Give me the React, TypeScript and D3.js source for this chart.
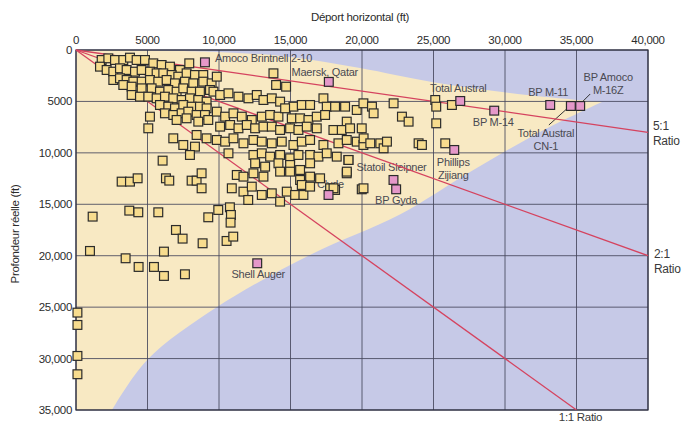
import React from "react";
import * as d3 from "d3";

const W = 683;
const H = 425;

// Axis ticks (feet)
const xTicks = [0, 5000, 10000, 15000, 20000, 25000, 30000, 35000, 40000];
const yTicks = [0, 5000, 10000, 15000, 20000, 25000, 30000, 35000];
const xTickLabels = ["0", "5000", "10,000", "15,000", "20,000", "25,000", "30,000", "35,000", "40,000"];
const yTickLabels = ["0", "5000", "10,000", "15,000", "20,000", "25,000", "30,000", "35,000"];

// Extended-reach envelope: upper and lower boundaries [horizontal departure, depth]
const envelopeUpper: [number, number][] = [
  [0, 0], [9860, 194], [14965, 680], [19860, 1750], [24895, 3110], [31540, 4375], [36780, 5055],
];
const envelopeLower: [number, number][] = [
  [36780, 5055], [32450, 7970], [27550, 11870], [22650, 16000], [16360, 19930],
  [9860, 24990], [4970, 30140], [2520, 35000],
];

// Reach ratio lines (end points)
const ratioNames = ["5:1", "2:1", "1:1"];
const ratioEndX = [40000, 40000, 35000];
const ratioEndY = [8000, 20000, 35000];

// Wells: [horizontal departure ft, true vertical depth ft]
const wells: [number, number][] = [
  [1794, 972], [2260, 810], [2726, 972], [3308, 972], [3774, 745], [4240, 972], [4823, 972],
  [5405, 1296], [5988, 1458], [6570, 1620], [7269, 1944], [7921, 1296],
  [1677, 1620], [2143, 1944], [2609, 2106], [3075, 1782], [3541, 1944], [4124, 2106], [4590, 1944],
  [5172, 2106], [5638, 2268], [6104, 2268], [6687, 2430], [7153, 2592], [7735, 2268], [8318, 2430], [8900, 2430],
  [2609, 2916], [3075, 2754], [3541, 2916], [4007, 3078], [4590, 3078], [5172, 2916], [5755, 3078],
  [6337, 2916], [6920, 3240], [7619, 3078], [8201, 3240], [8900, 3078], [9483, 3240],
  [3308, 3402], [3891, 3564], [4590, 3726], [5289, 3726], [5871, 4050], [6454, 3888], [7036, 4050],
  [7502, 3726], [8085, 4050], [8667, 4050], [9366, 3888],
  [3891, 4374], [4473, 4536], [5056, 4536], [5638, 4698], [6221, 4536], [6803, 4698], [7386, 4860],
  [7968, 4698], [8551, 4860], [9133, 5022],
  [5871, 5346], [6454, 5508], [6920, 5670], [7502, 5346], [8085, 5508], [8667, 5508], [9133, 5670],
  [6221, 6156], [6803, 6318], [7386, 6156], [7852, 5994], [8434, 6318], [9017, 6318],
  [5172, 6480], [5056, 7614], [7036, 6804], [7735, 6642], [8551, 6966], [9250, 6804],
  [6803, 8586], [7502, 9234], [8318, 9396], [9133, 8586], [8434, 8262],
  [9846, 2592], [13807, 2268], [13993, 3402], [14692, 3564],
  [9613, 4050], [10079, 4374], [10662, 4212], [11361, 4536], [12060, 4698], [12642, 4374], [13108, 4860],
  [13691, 4698], [14273, 5022], [15205, 5508], [15788, 5346], [16370, 5346], [17302, 4698], [17535, 5508],
  [18118, 5508], [18817, 5508], [19632, 5832], [20098, 5184],
  [9846, 5994], [10429, 6480], [11011, 6156], [11594, 6480], [12293, 6804], [12992, 6480], [13574, 6318],
  [14157, 6480], [14623, 5670], [15089, 6642], [15671, 6642], [16254, 6804], [16836, 6480], [17419, 6318],
  [18933, 6966],
  [10079, 7452], [10778, 7290], [11361, 7614], [11943, 7290], [12526, 7614], [13108, 7452], [13691, 7452],
  [14273, 7776], [14972, 7614], [15555, 7776], [16137, 7452], [16836, 7614], [18001, 7776], [18584, 7776],
  [19166, 7614], [19982, 7614],
  [9846, 8748], [10429, 8910], [11011, 8586], [11710, 9072], [12409, 8748], [12992, 8910], [13691, 9072],
  [14390, 8910], [15205, 9234], [15788, 8910], [16370, 8748], [17302, 9234], [18351, 9072], [18933, 8748],
  [19632, 8910], [20098, 9234],
  [10662, 10044], [12409, 10206], [12992, 10044], [13574, 10368], [14273, 10206], [14972, 10530],
  [15555, 10206], [16370, 10206], [16953, 10368], [17535, 10044], [18234, 10368], [19050, 10692],
  [12526, 11016], [13225, 11340], [14157, 11016], [14972, 11178], [15671, 11664], [16370, 11016],
  [11244, 12150], [11710, 12312], [12409, 11988], [13108, 12312], [14273, 11826], [14972, 11826],
  [16370, 12312], [17069, 12474], [15671, 12636], [18933, 11988],
  [10895, 13446], [11710, 13770], [12293, 13284], [12992, 14094], [13691, 13932], [14273, 14742],
  [14739, 13770], [15322, 14094], [15904, 14094], [15788, 13122], [16370, 13284], [17768, 13446],
  [18118, 13608], [19982, 13543],
  [20105, 13446], [18940, 11826], [19057, 10692], [18008, 13446],
  [20696, 5508], [20812, 6156], [22210, 5184], [22793, 6480], [23259, 6966], [25123, 4860],
  [25192, 5508], [25192, 7128], [26288, 5346],
  [20113, 8586], [20579, 9072], [21278, 9072], [21511, 9558], [21744, 8910], [23958, 9072],
  [24191, 9234], [25822, 9072],
  [7968, 10206], [6057, 10757], [3192, 12798], [3774, 12798], [4310, 12474], [6290, 12474],
  [6523, 12701], [8085, 12701], [8434, 12701], [8784, 11988], [8784, 13446],
  [1164, 16200], [3727, 15617], [4357, 15779], [5755, 15779], [9250, 16265], [6989, 17496],
  [7455, 18338], [8853, 18792],
  [12044, 14580], [9948, 15552], [10763, 15293], [10833, 16038], [10810, 16783], [10530, 18565],
  [10996, 18144],
  [977, 19537], [3470, 20250], [4379, 21092], [5451, 21092], [6150, 19602], [6150, 21967], [7618, 21805],
  [100, 25531], [100, 26730], [100, 29743], [100, 31525],
];

// Record wells, highlighted and named
const recordNames = [
  "Amoco Brintnell 2-10", "Maersk, Qatar", "Total Austral", "BP M-14", "BP M-11",
  "Total Austral CN-1", "BP Amoco M-16Z", "Phillips Zijiang", "Statoil Sleipner", "BP Gyda",
  "Clyde", "Shell Auger",
];
const recordX = [9017, 17680, 26870, 29247, 33161, 34606, 35258, 26451, 22202, 22388, 17659, 12674];
const recordY = [1199, 3100, 4957, 5897, 5346, 5443, 5443, 9720, 12636, 13543, 14094, 20736];

// Label placement for each record well: text lines, offset from the marker (px), anchor, optional leader
type LabelLayout = { lines: string[]; dx: number; dy: number; anchor: string; leader?: [number, number, number, number] };
const labelLayout: Record<string, LabelLayout> = {
  "Amoco Brintnell 2-10": { lines: ["Amoco Brintnell 2-10"], dx: 10, dy: -4, anchor: "start" },
  "Maersk, Qatar": { lines: ["Maersk, Qatar"], dx: -4, dy: -10, anchor: "middle" },
  "Total Austral": { lines: ["Total Austral"], dx: -2, dy: -13, anchor: "middle" },
  "BP M-14": { lines: ["BP M-14"], dx: -1, dy: 11, anchor: "middle" },
  "BP M-11": { lines: ["BP M-11"], dx: -2, dy: -13, anchor: "middle" },
  "Total Austral CN-1": { lines: ["Total Austral", "CN-1"], dx: -25, dy: 27, anchor: "middle", leader: [-22, 19, -2, 1] },
  "BP Amoco M-16Z": { lines: ["BP Amoco", "M-16Z"], dx: 28, dy: -29, anchor: "middle", leader: [2, -4, 10, -12] },
  "Phillips Zijiang": { lines: ["Phillips", "Zijiang"], dx: -1, dy: 12, anchor: "middle" },
  "Statoil Sleipner": { lines: ["Statoil Sleipner"], dx: -2, dy: -13, anchor: "middle" },
  "BP Gyda": { lines: ["BP Gyda"], dx: 0, dy: 11, anchor: "middle" },
  "Clyde": { lines: ["Clyde"], dx: 2, dy: -11, anchor: "middle" },
  "Shell Auger": { lines: ["Shell Auger"], dx: 1, dy: 11, anchor: "middle" },
};

const FONT = "'Liberation Sans', Arial, sans-serif";
const BLUE = "#c6c9e7";
const BEIGE = "#f8e9c3";
const GRID = "#45465c";
const RED = "#d5435f";
const SQ = 8.8;

export default function App() {
  const margin = { left: 76, right: 35, top: 50, bottom: 15 };
  const x = d3.scaleLinear().domain([0, 40000]).range([margin.left, W - margin.right]);
  const y = d3.scaleLinear().domain([0, 35000]).range([margin.top, H - margin.bottom]);

  const curve = d3.line<[number, number]>().x((d) => x(d[0])).y((d) => y(d[1])).curve(d3.curveCatmullRom.alpha(0.5));
  const upperD = curve(envelopeUpper) || "";
  const lowerD = (curve(envelopeLower) || "").replace(/^M/, "L");
  const envelopeD = `${upperD}${lowerD}L${x(0)},${y(35000)}Z`;

  const [x0, x1] = x.range();
  const [y0, y1] = y.range();

  return (
    <svg width={W} height={H} style={{ position: "absolute", left: 0, top: 0, background: "#fff" }} fontFamily={FONT}>
      {/* plot background and envelope */}
      <rect x={x0} y={y0} width={x1 - x0} height={y1 - y0} fill={BLUE} />
      <path d={envelopeD} fill={BEIGE} />

      {/* grid */}
      {xTicks.map((t) => (
        <line key={`gx${t}`} x1={x(t)} x2={x(t)} y1={y0} y2={y1} stroke={GRID} strokeWidth={1} strokeOpacity={0.85} />
      ))}
      {yTicks.map((t) => (
        <line key={`gy${t}`} x1={x0} x2={x1} y1={y(t)} y2={y(t)} stroke={GRID} strokeWidth={1} strokeOpacity={0.85} />
      ))}
      <rect x={x0} y={y0} width={x1 - x0} height={y1 - y0} fill="none" stroke="#2e2f40" strokeWidth={1.2} />

      {/* axis tick labels */}
      {xTicks.map((t, i) => (
        <text key={`tx${t}`} x={x(t)} y={44} textAnchor="middle" fontSize={11.5} fill="#2b2b2b" letterSpacing={-0.3}>
          {xTickLabels[i]}
        </text>
      ))}
      {yTicks.map((t, i) => (
        <text key={`ty${t}`} x={x0 - 4} y={y(t) + 4} textAnchor="end" fontSize={11.5} fill="#2b2b2b" letterSpacing={-0.3}>
          {yTickLabels[i]}
        </text>
      ))}
      <text x={360} y={21} textAnchor="middle" fontSize={11.5} fill="#2b2b2b" letterSpacing={-0.3}>
        Déport horizontal (ft)
      </text>
      <text transform={`translate(19,${234}) rotate(-90)`} textAnchor="middle" fontSize={11.5} fill="#2b2b2b" letterSpacing={-0.3}>
        Profondeur réelle (ft)
      </text>

      {/* record well labels (beneath markers) */}
      {recordNames.map((n, i) => {
        const L = labelLayout[n];
        const cx = x(recordX[i]);
        const cy = y(recordY[i]);
        return (
          <g key={`lab${n}`}>
            {L.lines.map((s, k) => (
              <text
                key={k}
                x={cx + L.dx}
                y={cy + L.dy + 4 + k * 13}
                textAnchor={L.anchor as any}
                fontSize={11}
                fill="#4a4a52"
                letterSpacing={-0.25}
              >
                {s}
              </text>
            ))}
            {L.leader && (
              <line
                x1={cx + L.leader[0]}
                y1={cy + L.leader[1]}
                x2={cx + L.leader[2]}
                y2={cy + L.leader[3]}
                stroke="#333"
                strokeWidth={1}
              />
            )}
          </g>
        );
      })}

      {/* ratio lines */}
      {ratioNames.map((r, i) => (
        <line key={`r${r}`} x1={x(0)} y1={y(0)} x2={x(ratioEndX[i])} y2={y(ratioEndY[i])} stroke={RED} strokeWidth={1.3} />
      ))}

      {/* wells */}
      {wells.map((d, i) => (
        <rect
          key={`w${i}`}
          x={x(d[0]) - SQ / 2}
          y={y(d[1]) - SQ / 2}
          width={SQ}
          height={SQ}
          fill="#f7dc8e"
          stroke="#2b2b2b"
          strokeWidth={1.2}
        />
      ))}
      {recordNames.map((n, i) => (
        <rect
          key={`p${n}`}
          x={x(recordX[i]) - SQ / 2}
          y={y(recordY[i]) - SQ / 2}
          width={SQ}
          height={SQ}
          fill="#e598c9"
          stroke="#2b2b2b"
          strokeWidth={1.2}
        />
      ))}

      {/* ratio labels */}
      <text x={x(40000) + 5} y={y(8000) - 2} fontSize={12} fill="#3a3a3a" letterSpacing={-0.3}>5:1</text>
      <text x={x(40000) + 5} y={y(8000) + 13} fontSize={12} fill="#3a3a3a" letterSpacing={-0.3}>Ratio</text>
      <text x={x(40000) + 6} y={y(20000) + 2} fontSize={12} fill="#3a3a3a" letterSpacing={-0.3}>2:1</text>
      <text x={x(40000) + 6} y={y(20000) + 17} fontSize={12} fill="#3a3a3a" letterSpacing={-0.3}>Ratio</text>
      <text x={x(35000) + 4} y={y(35000) + 11} textAnchor="middle" fontSize={11.5} fill="#3a3a3a" letterSpacing={-0.3}>1:1 Ratio</text>
    </svg>
  );
}
